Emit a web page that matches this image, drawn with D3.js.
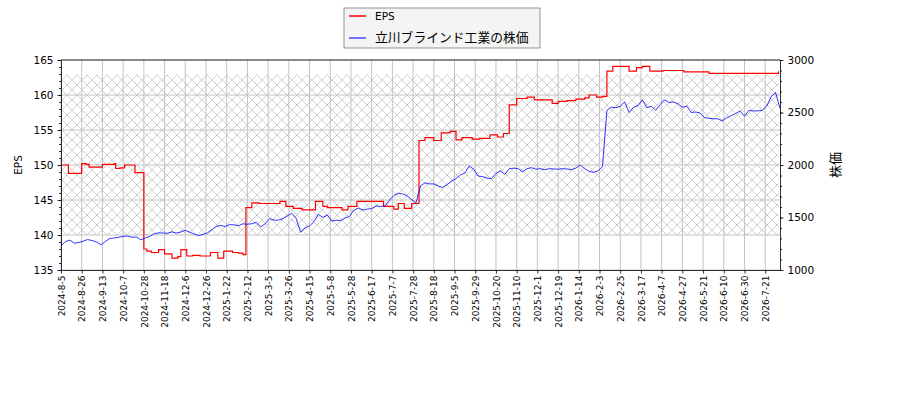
<html>
<head>
<meta charset="utf-8" />
<title>EPS</title>
<script src="https://cdn.jsdelivr.net/npm/d3@7"></script>
<style>
  body { margin: 0; background: #ffffff; }
  text { font-family: "DejaVu Sans", "Noto Sans CJK JP", sans-serif; }
</style>
</head>
<body>
<script>

// x axis: trading-day index, one tick label every 14 days
var tickLabels = ["2024-8-5","2024-8-26","2024-9-13","2024-10-7","2024-10-28","2024-11-18","2024-12-6","2024-12-26",
  "2025-1-22","2025-2-12","2025-3-5","2025-3-26","2025-4-15","2025-5-8","2025-5-28","2025-6-17","2025-7-7","2025-7-28",
  "2025-8-18","2025-9-5","2025-9-29","2025-10-20","2025-11-10","2025-12-1","2025-12-19","2026-1-14","2026-2-3",
  "2026-2-25","2026-3-17","2026-4-7","2026-4-27","2026-5-21","2026-6-10","2026-6-30","2026-7-21"];
var tickEvery = 14;
var lastDay = 485;

// EPS: step values (day index where value starts)
var epsStart = [0,5,14,17,19,28,36,37,40,43,50,56,58,61,66,70,75,79,81,85,89,94,101,106,110,116,120,123,
  125,129,134,140,148,152,157,163,172,177,180,190,194,200,218,225,228,232,237,
  242,246,252,257,263,267,271,278,283,290,295,299,303,308,315,320,332,336,342,348,354,357,362,366,
  369,373,376,384,389,393,398,407,421,438,485];
var epsValue = [150.0,148.8,150.2,150.1,149.7,150.1,150.2,149.5,149.6,150.0,148.9,138.0,137.7,137.5,137.9,137.3,136.7,136.9,137.9,137.0,137.1,137.0,137.5,136.7,137.7,137.5,137.4,137.2,
  143.9,144.6,144.5,144.5,144.8,144.1,143.8,143.6,144.8,144.1,143.9,143.6,144.1,144.8,144.1,143.7,144.5,143.8,144.5,
  153.5,153.9,153.5,154.6,154.8,153.6,153.9,153.7,153.8,154.3,154.0,154.5,158.6,159.5,159.7,159.3,158.8,159.1,159.2,159.4,159.6,160.0,159.7,159.8,
  163.4,164.1,164.1,163.4,163.9,164.1,163.4,163.5,163.3,163.1,163.4];

// share price, one value every 3 trading days
var priceStep = 3;
var priceValues = [1230,1270,1285,1255,1262,1275,1290,1280,1268,1240,1272,1300,1305,1312,1320,1323,1312,1315,1288,1305,
  1320,1345,1354,1352,1350,1363,1352,1362,1378,1360,1342,1328,1340,1354,1385,1415,1424,1414,1432,1430,
  1422,1440,1436,1440,1455,1410,1440,1490,1475,1475,1490,1515,1540,1490,1360,1400,1420,1460,1530,1500,
  1525,1465,1475,1470,1495,1510,1570,1590,1570,1580,1585,1610,1605,1610,1665,1710,1730,1725,1705,1670,
  1640,1800,1830,1820,1820,1800,1785,1815,1845,1870,1905,1925,1990,1960,1895,1889,1875,1870,1920,1945,
  1910,1965,1970,1965,1935,1965,1975,1960,1965,1955,1965,1962,1960,1965,1962,1955,1970,2000,1965,1940,
  1930,1945,1985,2520,2550,2545,2560,2600,2500,2550,2565,2620,2545,2560,2520,2575,2620,2595,2600,2585,
  2550,2560,2500,2505,2495,2450,2445,2440,2440,2420,2450,2470,2490,2515,2465,2520,2515,2515,2520,2560,
  2650,2690,2540];

// hatched band in EPS units
var bandLow = 140, bandHigh = 162.9;

var margin = {top: 60, right: 120, bottom: 130, left: 61};
var width = 900 - margin.left - margin.right,
    height = 400 - margin.top - margin.bottom;

var base = d3.select("body").append("svg")
  .attr("width", 900).attr("height", 400);

var defs = base.append("defs");
var pat = defs.append("pattern").attr("id", "hatch")
  .attr("patternUnits", "userSpaceOnUse").attr("width", 10).attr("height", 10)
  .attr("x", margin.left).attr("y", 0);
pat.append("path").attr("d", "M0,0L10,10M10,0L0,10M-1,9L1,11M9,-1L11,1M-1,1L1,-1M9,11L11,9")
  .attr("stroke", "#b0b0b0").attr("stroke-width", 0.6).attr("fill", "none");

var svg = base.append("g").attr("transform", "translate(" + margin.left + "," + margin.top + ")");

var xScale = d3.scaleLinear().domain([0, lastDay + 1]).range([0, width]);
var yScale = d3.scaleLinear().domain([135, 165]).range([height, 0]);
var y2Scale = d3.scaleLinear().domain([1000, 3000]).range([height, 0]);

var tickIdx = tickLabels.map(function(d, i) { return i * tickEvery; });

// hatch band
svg.append("rect")
  .attr("x", xScale(0)).attr("width", xScale(lastDay) - xScale(0))
  .attr("y", yScale(bandHigh)).attr("height", yScale(bandLow) - yScale(bandHigh))
  .attr("fill", "url(#hatch)");

// grid
svg.append("g").selectAll("line").data(tickIdx).enter().append("line")
  .attr("x1", d => xScale(d)).attr("x2", d => xScale(d))
  .attr("y1", 0).attr("y2", height)
  .attr("stroke", "#c4c4c4").attr("stroke-width", 1);
svg.append("g").selectAll("line").data(d3.range(135, 166, 5)).enter().append("line")
  .attr("x1", 0).attr("x2", width)
  .attr("y1", d => yScale(d)).attr("y2", d => yScale(d))
  .attr("stroke", "#c4c4c4").attr("stroke-width", 1);

// lines
var epsPts = epsStart.map(function(d, i) { return [d, epsValue[i]]; });
var eLine = d3.line().x(d => xScale(d[0])).y(d => yScale(d[1])).curve(d3.curveStepAfter);
svg.append("path").datum(epsPts)
  .attr("fill", "none").attr("stroke", "#ff0000").attr("stroke-width", 1.2)
  .attr("d", eLine);

var pLine = d3.line().x((d, i) => xScale(i * priceStep)).y(d => y2Scale(d));
svg.append("path").datum(priceValues)
  .attr("fill", "none").attr("stroke", "#0000ff").attr("stroke-width", 0.8)
  .attr("d", pLine);

// axes
function styleAxis(g) {
  g.selectAll("path, line").attr("stroke", "#000").attr("stroke-width", 0.8);
  g.selectAll("text").attr("fill", "#000").style("font-family", "DejaVu Sans");
}

var xAxis = svg.append("g").attr("transform", "translate(0," + height + ")")
  .call(d3.axisBottom(xScale).tickValues(tickIdx).tickSize(3.5).tickSizeOuter(0)
    .tickFormat((d, i) => tickLabels[i]));
xAxis.selectAll("text")
  .attr("transform", "rotate(-90)")
  .attr("x", -5.5).attr("y", 0).attr("dy", "0.35em")
  .attr("text-anchor", "end").attr("font-size", "9px");
styleAxis(xAxis);

var yAxisL = svg.append("g")
  .call(d3.axisLeft(yScale).tickValues(d3.range(135, 166, 5)).tickSize(3.5).tickSizeOuter(0).tickPadding(4));
yAxisL.selectAll("text").attr("font-size", "10.5px");
styleAxis(yAxisL);
svg.append("g").call(d3.axisLeft(yScale).tickValues(d3.range(135, 166, 1)).tickSize(2).tickFormat(""))
  .call(g => g.select(".domain").remove()).call(styleAxis);

var yAxisR = svg.append("g").attr("transform", "translate(" + width + ",0)")
  .call(d3.axisRight(y2Scale).tickValues(d3.range(1000, 3001, 500)).tickSize(3.5).tickSizeOuter(0)
    .tickPadding(4).tickFormat(d3.format("d")));
yAxisR.selectAll("text").attr("font-size", "10.5px");
styleAxis(yAxisR);
svg.append("g").attr("transform", "translate(" + width + ",0)")
  .call(d3.axisRight(y2Scale).tickValues(d3.range(1000, 3001, 100)).tickSize(2).tickFormat(""))
  .call(g => g.select(".domain").remove()).call(styleAxis);

// frame top
svg.append("line").attr("x1", 0).attr("x2", width).attr("y1", 0).attr("y2", 0)
  .attr("stroke", "#000").attr("stroke-width", 0.8);

// axis titles
base.append("text").text("EPS")
  .attr("transform", "translate(22," + (margin.top + height / 2) + ") rotate(-90)")
  .attr("text-anchor", "middle").attr("font-size", "10.5px");
base.append("text").text("株価")
  .attr("transform", "translate(840," + (margin.top + height / 2) + ") rotate(-90)")
  .attr("text-anchor", "middle").attr("font-size", "13px")
  .style("font-family", "'Noto Sans CJK JP'");

// legend
var legend = base.append("g").attr("transform", "translate(344,8)");
legend.append("rect").attr("width", 196).attr("height", 40)
  .attr("fill", "#f4f4f4").attr("stroke", "#7a7a7a").attr("stroke-width", 0.8);
var legendItems = [{label: "EPS", color: "#ff0000", size: "10.5px"},
                   {label: "立川ブラインド工業の株価", color: "#4a4aff", size: "12.8px"}];
legendItems.forEach(function(d, i) {
  var yy = 8 + i * 22;
  legend.append("line").attr("x1", 5).attr("x2", 22).attr("y1", yy).attr("y2", yy)
    .attr("stroke", d.color).attr("stroke-width", 1.5);
  legend.append("text").text(d.label).attr("x", 31).attr("y", yy).attr("dy", "0.35em")
    .attr("font-size", d.size)
    .style("font-family", i == 0 ? "DejaVu Sans" : "'Noto Sans CJK JP'");
});

</script>
</body>
</html>
